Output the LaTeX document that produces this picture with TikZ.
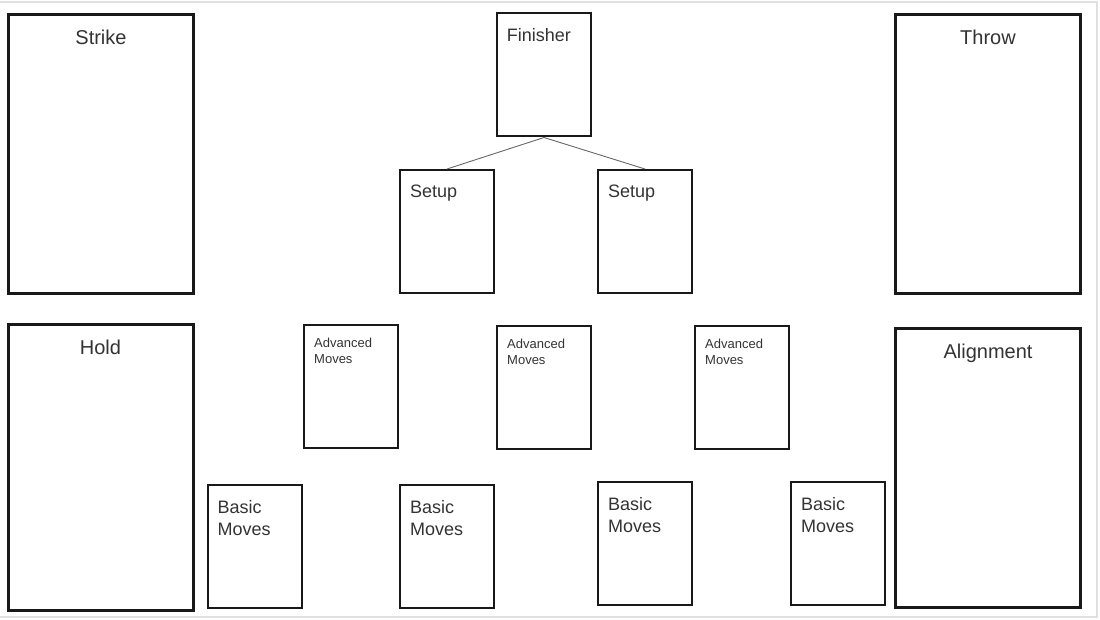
\documentclass[tikz,border=0pt]{standalone}
\usepackage{fontspec}
\setmainfont{Liberation Sans}
\usetikzlibrary{positioning}

\begin{document}
\begin{tikzpicture}[x=1pt,y=-1pt,line join=miter,
  bigbox/.style={draw=black!90,line width=3pt,minimum width=185pt,minimum height=279pt,inner sep=0pt},
  card/.style={draw=black!90,line width=2pt,minimum width=94pt,minimum height=123pt,inner sep=0pt},
  bigtext/.style={text=black!80,font=\fontsize{20}{24}\selectfont,anchor=base,inner sep=0pt},
  cardtext/.style={text=black!80,font=\fontsize{18}{22}\selectfont,align=left,inner sep=0pt},
  smalltext/.style={text=black!80,font=\fontsize{13}{16}\selectfont,align=left,inner sep=0pt},
  link/.style={draw=black!60,line width=0.9pt}]
  \useasboundingbox (0,0) rectangle (1100,620);
  \draw[black!12,line width=1.2pt] (-2,2) -- (1097,2) -- (1097,617) -- (-2,617);
  % four corner panels
  \node[bigbox] (strike) at (101,154) {};
  \node[bigbox,minimum height=286pt] (hold) at (100.5,467.5) {};
  \node[bigbox] (throw) at (988,154) {};
  \node[bigbox] (align) at (988,468) {};
  \foreach \b/\t in {strike/Strike, hold/Hold, throw/Throw, align/Alignment}
    \node[bigtext] (\b-lbl) at ([yshift=-31.5pt]\b.north) {\t};
  % finisher and its setups
  \node[card] (fin) at (544,75) {};
  \node[card] (set1) at (447,231.5) {};
  \node[card] (set2) at (645,231.5) {};
  \draw[link] (fin.south) -- (set1.north);
  \draw[link] (fin.south) -- (set2.north);
  \node[cardtext,anchor=base west] (fin-lbl) at ([xshift=10.7pt,yshift=-29pt]fin.north west) {Finisher};
  \foreach \s in {set1,set2}
    \node[cardtext,anchor=base west] (\s-lbl) at ([xshift=11pt,yshift=-28.5pt]\s.north west) {Setup};
  % advanced moves
  \foreach \n/\x/\y in {adv1/351/386.5, adv2/544/387.5, adv3/742/387.5} {
    \node[card] (\n) at (\x,\y) {};
    \node[smalltext,below right=14pt and 11pt of \n.north west] (\n-lbl) {Advanced\\Moves};
  }
  % basic moves
  \foreach \n/\x/\y in {bas1/254.5/546.5, bas2/447/546.5, bas3/645/543.5, bas4/838/543.5} {
    \node[card] (\n) at (\x,\y) {};
    \node[cardtext,below right=16pt and 11pt of \n.north west] (\n-lbl) {Basic\\Moves};
  }
\end{tikzpicture}
\end{document}
